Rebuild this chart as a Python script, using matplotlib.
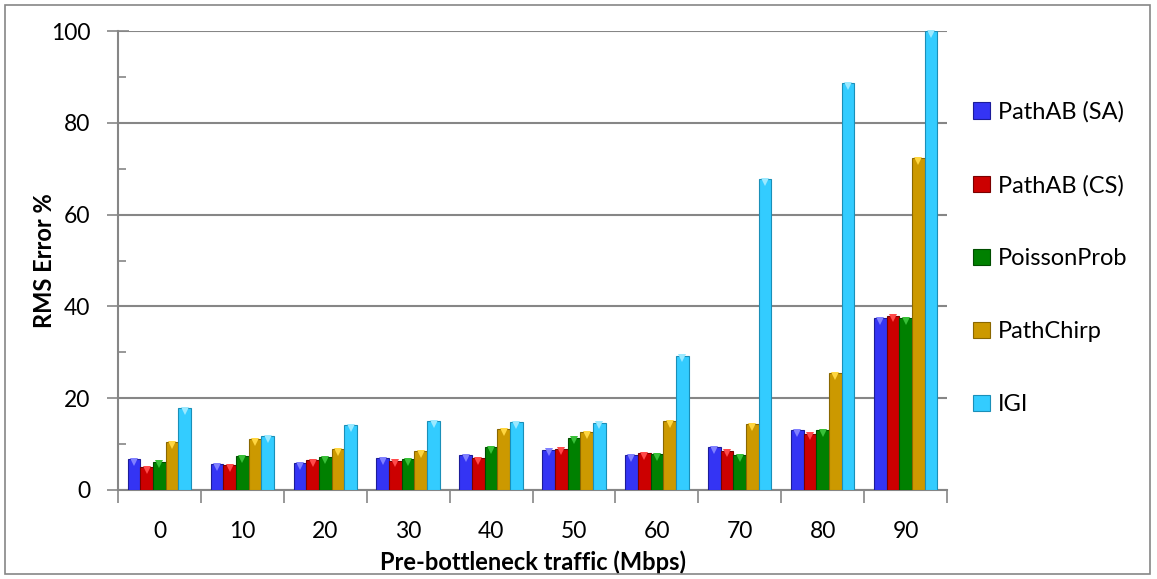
import matplotlib
matplotlib.use('Agg')
import matplotlib.pyplot as plt
from matplotlib.patches import Rectangle, Patch
from matplotlib.ticker import MultipleLocator, FixedLocator, NullFormatter
import numpy as np

plt.rcParams['font.family'] = ['Lato', 'DejaVu Sans']

traffic = ['0', '10', '20', '30', '40', '50', '60', '70', '80', '90']
series = ['PathAB (SA)', 'PathAB (CS)', 'PoissonProb', 'PathChirp', 'IGI']

pathab_sa = [6.7, 5.6, 5.9, 7.0, 7.6, 8.8, 7.6, 9.4, 13.0, 37.5]
pathab_cs = [5.0, 5.4, 6.5, 6.4, 7.0, 9.0, 8.0, 8.6, 12.3, 38.0]
poisson = [6.2, 7.3, 7.1, 6.8, 9.3, 11.4, 7.8, 7.6, 13.0, 37.4]
pathchirp = [10.4, 11.1, 8.9, 8.4, 13.3, 12.6, 15.0, 14.4, 25.4, 72.3]
igi = [17.8, 11.8, 14.1, 15.0, 14.8, 14.7, 29.3, 67.7, 88.6, 100.0]

valores = [pathab_sa, pathab_cs, poisson, pathchirp, igi]
colores = ['#3434f4', '#cc0000', '#008000', '#cc9900', '#33ccff']
bordes = ['#1c1c9a', '#7a0000', '#004d00', '#8a6700', '#1a8fb8']
claros = ['#8080ff', '#ff4a4a', '#38c038', '#ffd640', '#9be9ff']

fig = plt.figure(figsize=(11.57, 5.79), dpi=100)
ax = fig.add_axes([118 / 1157, 89 / 579, 829 / 1157, 459 / 579])

x = np.arange(len(traffic))
w = 0.153
for i, (vals, c, b, cl) in enumerate(zip(valores, colores, bordes, claros)):
    pos = x + (i - 2) * w
    ax.bar(pos, vals, w, color=c, edgecolor=b, linewidth=0.8, zorder=3)
    # el triangulito de arriba (efecto bisel de excel)
    ax.plot(pos, np.array(vals) - 0.6, 'v', color=cl, markersize=6,
            markeredgewidth=0, zorder=4, clip_on=False)

ax.set_xlim(-0.5, 9.5)
ax.set_ylim(0, 100)

# y: mayores cruzan el eje, menores hacia adentro
ax.yaxis.set_major_locator(MultipleLocator(20))
ax.yaxis.set_minor_locator(MultipleLocator(10))
ax.tick_params(axis='y', which='major', direction='inout', length=16, width=1.2,
               color='#868686', labelsize=16.5, pad=12)
ax.tick_params(axis='y', which='minor', direction='in', length=6, width=1.2,
               color='#868686')

# x: marcas en los limites de categoria, etiquetas al centro
ax.xaxis.set_major_locator(FixedLocator(np.arange(-0.5, 10, 1)))
ax.xaxis.set_major_formatter(NullFormatter())
ax.xaxis.set_minor_locator(FixedLocator(x))
ax.set_xticklabels(traffic, minor=True)
ax.tick_params(axis='x', which='major', direction='out', length=9, width=1.2,
               color='#868686')
ax.tick_params(axis='x', which='minor', length=0, labelsize=16.5, pad=22)

ax.grid(True, axis='y', which='major', color='#868686', linewidth=1.5, zorder=0)
ax.set_axisbelow(True)
for s in ['top', 'right']:
    ax.spines[s].set_visible(False)
for s in ['left', 'bottom']:
    ax.spines[s].set_color('#868686')
    ax.spines[s].set_linewidth(1.5)

ax.set_ylabel('RMS Error %', fontsize=17, fontweight='bold', labelpad=-4)
ax.set_xlabel('Pre-bottleneck traffic (Mbps)', fontsize=17, fontweight='bold',
              va='center')
ax.xaxis.set_label_coords(0.5, -(562 - 490) / 459)

handles = [Patch(facecolor=c, edgecolor=b, linewidth=0.8)
           for c, b in zip(colores, bordes)]
fig.legend(handles, series, loc='upper left', bbox_to_anchor=(964 / 1157, 1 - 92 / 579),
           frameon=False, fontsize=17, handlelength=0.7, handleheight=0.7,
           handletextpad=0.35, labelspacing=2.2, borderaxespad=0)

fig.patches.append(Rectangle((5 / 1157, 5 / 579), 1145 / 1157, 569 / 579,
                             transform=fig.transFigure, fill=False,
                             edgecolor='#868686', linewidth=1.2))

plt.savefig('out.png', dpi=100)
plt.close()
